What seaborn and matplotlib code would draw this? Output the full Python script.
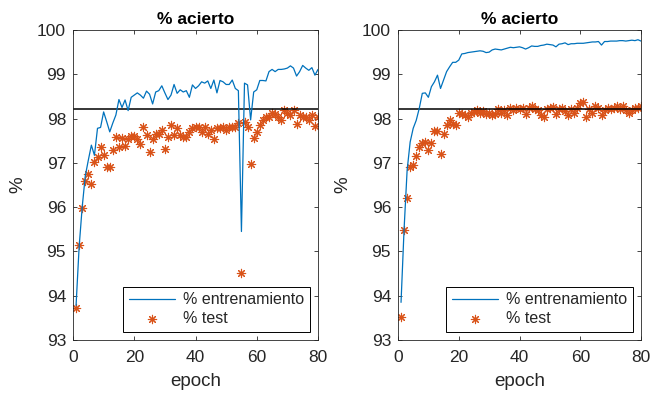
import numpy as np
import pandas as pd
import matplotlib
matplotlib.use("Agg")
import matplotlib.pyplot as plt
import seaborn as sns

epochs = list(range(1, 81))

train_left = [93.78, 95.1, 96.0, 96.7, 97.06, 97.4, 97.17, 97.78, 97.8, 98.15,
              97.93, 97.7, 97.9, 98.08, 98.43, 98.25, 98.42, 98.18, 98.48, 98.53,
              98.58, 98.53, 98.46, 98.62, 98.55, 98.33, 98.6, 98.63, 98.74, 98.58,
              98.43, 98.53, 98.77, 98.57, 98.65, 98.6, 98.63, 98.48, 98.76, 98.68,
              98.74, 98.83, 98.8, 98.85, 98.68, 98.87, 98.58, 98.86, 98.83, 98.77,
              98.77, 98.87, 98.68, 98.63, 95.45, 98.8, 98.76, 97.97, 98.6, 98.65,
              98.86, 98.86, 98.85, 99.06, 99.11, 99.06, 99.11, 99.11, 99.12, 99.14,
              99.19, 99.14, 98.96, 99.06, 99.2, 99.14, 99.09, 99.15, 98.98, 99.11]

test_left = [93.72, 95.14, 95.97, 96.6, 96.74, 96.52, 97.02, 97.13, 97.35, 97.17,
             96.9, 96.9, 97.29, 97.59, 97.35, 97.57, 97.38, 97.55, 97.6, 97.61,
             97.55, 97.42, 97.8, 97.63, 97.25, 97.55, 97.66, 97.66, 97.74, 97.32,
             97.59, 97.85, 97.63, 97.78, 97.63, 97.59, 97.59, 97.7, 97.78, 97.82,
             97.82, 97.7, 97.82, 97.66, 97.74, 97.55, 97.78, 97.78, 97.82, 97.74,
             97.82, 97.82, 97.82, 97.89, 94.52, 97.93, 97.82, 96.97, 97.57, 97.7,
             97.85, 97.97, 98.04, 98.04, 98.12, 98.1, 98.04, 97.97, 98.2, 98.12,
             98.08, 98.2, 97.88, 98.08, 98.04, 98.04, 97.97, 98.08, 97.83, 98.03]

train_right = [93.85, 95.5, 96.83, 97.47, 97.78, 97.96, 98.23, 98.57, 98.58, 98.48,
               98.72, 98.83, 98.98, 98.68, 98.87, 99.06, 99.17, 99.27, 99.27, 99.32,
               99.46, 99.47, 99.49, 99.5, 99.51, 99.52, 99.53, 99.52, 99.49, 99.5,
               99.55, 99.57, 99.56, 99.55, 99.57, 99.59, 99.61, 99.6, 99.61, 99.62,
               99.6, 99.57, 99.6, 99.64, 99.63, 99.63, 99.65, 99.66, 99.68, 99.67,
               99.66, 99.62, 99.68, 99.69, 99.71, 99.67, 99.69, 99.69, 99.7, 99.7,
               99.7, 99.71, 99.72, 99.73, 99.73, 99.74, 99.66, 99.74, 99.74, 99.75,
               99.75, 99.75, 99.76, 99.76, 99.75, 99.76, 99.77, 99.76, 99.78, 99.75]

test_right = [93.51, 95.49, 96.21, 96.91, 96.95, 97.15, 97.36, 97.45, 97.48, 97.3,
              97.44, 97.72, 97.72, 97.21, 97.66, 97.85, 97.97, 97.88, 97.86, 98.13,
              98.1, 98.08, 98.04, 98.12, 98.15, 98.19, 98.13, 98.18, 98.1, 98.13,
              98.09, 98.1, 98.21, 98.12, 98.19, 98.09, 98.23, 98.19, 98.23, 98.21,
              98.23, 98.1, 98.23, 98.28, 98.21, 98.19, 98.08, 98.03, 98.21, 98.25,
              98.27, 98.1, 98.21, 98.25, 98.18, 98.08, 98.21, 98.13, 98.25, 98.36,
              98.38, 98.04, 98.21, 98.13, 98.28, 98.25, 98.08, 98.19, 98.23, 98.21,
              98.25, 98.28, 98.21, 98.28, 98.19, 98.13, 98.19, 98.25, 98.23, 98.28]

ref_level = 98.22
title_text = "% acierto"
legend_labels = ["% entrenamiento", "% test"]
xticks = [0, 20, 40, 60, 80]
yticks = [93, 94, 95, 96, 97, 98, 99, 100]

sns.set_theme(style="white")
plt.rcParams['font.family'] = ['Liberation Sans', 'DejaVu Sans']

BLUE = "#0072BD"
ORANGE = "#D95319"
AXC = "#262626"

fig = plt.figure(figsize=(6.51, 3.96), dpi=100)
ax1 = fig.add_axes([73/651, 56/396, 245/651, 310/396])
ax2 = fig.add_axes([398/651, 56/396, 243/651, 310/396])

panels = [(ax1, train_left, test_left), (ax2, train_right, test_right)]
for ax, tr, te in panels:
    df = pd.DataFrame({"epoch": epochs, "train": tr, "test": te})
    sns.lineplot(data=df, x="epoch", y="train", ax=ax, color=BLUE,
                 linewidth=0.9, label=legend_labels[0], legend=False)
    sns.scatterplot(data=df, x="epoch", y="test", ax=ax, color=ORANGE,
                    marker=(8, 2, 0), s=36, linewidth=0.8,
                    label=legend_labels[1], legend=False)
    ax.axhline(ref_level, color="black", linewidth=1.1, zorder=1.5)
    ax.set_xlim(0, 80)
    ax.set_ylim(93, 100)
    ax.set_xticks(xticks)
    ax.set_yticks(yticks)
    ax.tick_params(direction="in", length=3, width=0.6, colors=AXC,
                   labelsize=12.5, top=True, right=True, left=True, bottom=True,
                   labelcolor=AXC)
    ax.tick_params(axis="x", pad=7)
    ax.tick_params(axis="y", pad=5)
    for sp in ax.spines.values():
        sp.set_color(AXC)
        sp.set_linewidth(0.6)
    ax.set_title(title_text, fontsize=12.5, fontweight="bold", color="black", pad=4)
    ax.set_xlabel("epoch", fontsize=13.5, color=AXC, labelpad=6)
    ax.set_ylabel("%", fontsize=13.5, color=AXC, labelpad=8)
    leg = ax.legend(loc="lower right", fontsize=11.5, frameon=True, fancybox=False,
                    borderaxespad=0.5, handlelength=2.9, handletextpad=0.5,
                    borderpad=0.35, labelspacing=0.25)
    leg.get_frame().set_edgecolor("black")
    leg.get_frame().set_linewidth(0.7)
    leg.get_frame().set_alpha(1)

fig.savefig("out.png", dpi=100)
